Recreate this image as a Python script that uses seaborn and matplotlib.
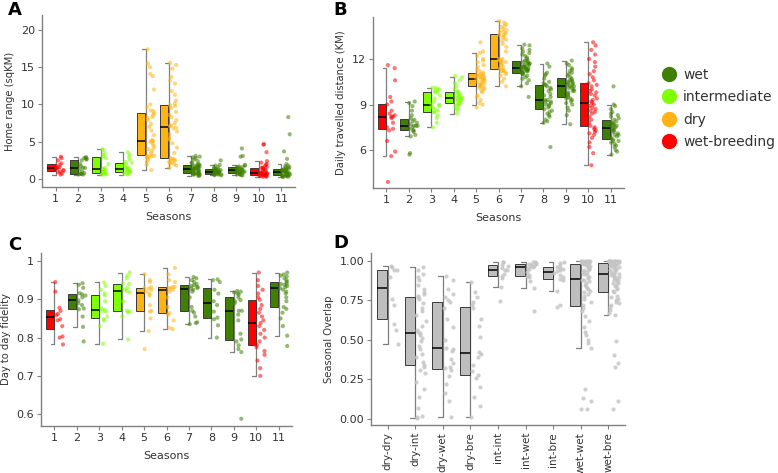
import numpy as np
import pandas as pd
import matplotlib
matplotlib.use("Agg")
import matplotlib.pyplot as plt
from matplotlib.lines import Line2D
from matplotlib.cbook import boxplot_stats
import seaborn as sns

# ---- data ----
seasons = list(range(1, 11 + 1))
season_type = ["wet-breeding", "wet", "intermediate", "intermediate", "dry", "dry",
               "wet", "wet", "wet", "wet-breeding", "wet"]
type_order = ["wet", "intermediate", "dry", "wet-breeding"]
type_colors = ["#3F8000", "#7FFF00", "#FFB414", "#FF0000"]

home_range = [
    [0.6, 0.7, 0.9, 1.0, 1.1, 1.2, 1.4, 1.5, 1.5, 1.6, 1.8, 1.9, 2.1, 2.5, 2.8, 3.0],
    [0.6, 0.6, 0.7, 0.7, 0.7, 0.8, 1.0, 1.3, 1.5, 1.5, 1.7, 2.0, 2.5, 2.6, 2.7, 2.8, 2.9, 2.9],
    [0.6, 0.6, 0.7, 0.8, 0.8, 0.9, 1.0, 1.2, 1.3, 1.3, 1.5, 2.0, 2.8, 3.0, 3.2, 3.5, 3.9, 4.0],
    [0.6, 0.7, 0.8, 0.9, 0.9, 0.9, 1.0, 1.1, 1.2, 1.3, 1.3, 1.4, 1.5, 1.6, 1.8, 2.0, 2.2, 2.3,
     2.6, 3.0, 3.3, 3.6],
    [1.2, 1.9, 2.3, 2.6, 2.8, 2.9, 3.0, 3.0, 3.1, 3.1, 3.2, 3.5, 3.8, 4.0, 4.2, 4.5, 4.8, 5.0,
     5.1, 5.1, 5.2, 5.9, 6.5, 7.0, 7.4, 7.9, 8.2, 8.3, 8.6, 8.8, 9.1, 9.2, 9.6, 10.0, 12.0,
     13.8, 14.1, 15.0, 15.5, 17.4],
    [1.5, 1.8, 2.0, 2.1, 2.2, 2.3, 2.4, 2.5, 2.6, 2.7, 2.8, 3.5, 4.2, 4.8, 5.3, 5.5, 6.0, 6.4,
     6.8, 6.9, 7.1, 7.2, 7.5, 7.9, 8.3, 8.6, 9.0, 9.5, 9.8, 9.9, 10.1, 10.5, 11.3, 11.8, 12.8,
     13.2, 13.7, 14.8, 15.3, 15.6],
    [0.4, 0.5, 0.5, 0.6, 0.6, 0.7, 0.7, 0.7, 0.8, 0.8, 0.8, 0.9, 1.0, 1.0, 1.1, 1.2, 1.2, 1.3,
     1.3, 1.3, 1.4, 1.4, 1.5, 1.5, 1.6, 1.6, 1.7, 1.7, 1.8, 1.9, 1.9, 2.0, 2.1, 2.2, 2.4, 2.6,
     2.8, 2.9, 3.0, 3.1],
    [0.5, 0.5, 0.6, 0.6, 0.6, 0.7, 0.7, 0.7, 0.8, 0.8, 0.9, 0.9, 0.9, 1.0, 1.0, 1.0, 1.0, 1.1,
     1.1, 1.2, 1.2, 1.3, 1.3, 1.3, 1.4, 1.5, 1.6, 1.8, 1.9, 2.5],
    [0.5, 0.5, 0.6, 0.6, 0.7, 0.7, 0.8, 0.8, 0.8, 0.9, 0.9, 1.0, 1.0, 1.1, 1.1, 1.2, 1.2, 1.3,
     1.3, 1.4, 1.4, 1.5, 1.6, 1.6, 1.7, 1.8, 1.9, 3.0, 3.1, 4.1],
    [0.3, 0.3, 0.4, 0.4, 0.4, 0.5, 0.5, 0.5, 0.5, 0.6, 0.6, 0.6, 0.7, 0.7, 0.7, 0.8, 0.8, 0.8,
     0.8, 0.9, 1.0, 1.1, 1.2, 1.3, 1.4, 1.5, 1.5, 1.6, 1.7, 1.9, 2.0, 2.2, 2.4, 3.6, 4.6, 4.7],
    [0.3, 0.3, 0.3, 0.4, 0.4, 0.4, 0.5, 0.5, 0.5, 0.5, 0.6, 0.6, 0.6, 0.7, 0.7, 0.8, 0.8, 0.8,
     0.9, 0.9, 0.9, 1.0, 1.0, 1.1, 1.1, 1.2, 1.2, 1.3, 1.3, 1.3, 1.4, 1.5, 1.6, 1.7, 1.8, 2.0,
     2.7, 3.7, 6.0, 8.3],
]

daily_distance = [
    [3.9, 5.6, 5.9, 6.6, 7.3, 7.4, 7.5, 7.8, 8.1, 8.2, 8.2, 8.3, 8.4, 8.6, 9.0, 9.2, 9.5, 10.6,
     11.4, 11.6],
    [5.7, 5.8, 6.9, 7.0, 7.2, 7.3, 7.3, 7.4, 7.5, 7.6, 7.6, 7.6, 7.7, 7.8, 7.9, 8.0, 8.1, 8.3,
     8.6, 8.9, 9.1, 9.2],
    [7.5, 7.8, 8.1, 8.3, 8.5, 8.5, 8.6, 8.7, 8.8, 8.9, 9.0, 9.0, 9.2, 9.4, 9.6, 9.8, 9.8, 9.9,
     10.0, 10.0, 10.1, 10.1],
    [8.4, 8.6, 8.7, 8.8, 8.9, 9.0, 9.0, 9.1, 9.1, 9.2, 9.2, 9.3, 9.3, 9.4, 9.4, 9.4, 9.5, 9.5,
     9.6, 9.6, 9.7, 9.8, 9.8, 9.9, 10.0, 10.2, 10.4, 10.6, 10.8, 10.9],
    [8.8, 9.0, 9.1, 9.3, 9.5, 9.6, 9.8, 9.9, 10.0, 10.1, 10.1, 10.2, 10.2, 10.3, 10.3, 10.4,
     10.4, 10.5, 10.5, 10.6, 10.6, 10.7, 10.7, 10.7, 10.8, 10.8, 10.8, 10.9, 10.9, 10.9, 11.0,
     11.0, 11.0, 11.1, 11.2, 11.3, 11.5, 11.6, 11.8, 11.9, 12.0, 12.2, 12.4, 12.5, 13.1],
    [10.2, 10.5, 10.7, 10.9, 11.0, 11.1, 11.2, 11.2, 11.3, 11.3, 11.4, 11.5, 11.6, 11.7, 11.8,
     11.8, 11.9, 11.9, 11.9, 12.0, 12.0, 12.5, 12.8, 13.0, 13.2, 13.3, 13.4, 13.5, 13.6, 13.6,
     13.7, 13.8, 13.8, 13.9, 14.0, 14.1, 14.2, 14.3, 14.4, 14.5],
    [9.5, 10.2, 10.4, 10.6, 10.7, 10.8, 10.9, 11.0, 11.0, 11.1, 11.1, 11.1, 11.2, 11.2, 11.2,
     11.3, 11.3, 11.3, 11.3, 11.4, 11.4, 11.4, 11.4, 11.5, 11.5, 11.5, 11.6, 11.6, 11.7, 11.7,
     11.7, 11.8, 11.8, 11.9, 11.9, 12.0, 12.1, 12.2, 12.3, 12.4, 12.5, 12.6, 12.7, 12.9, 12.95],
    [6.2, 7.8, 7.9, 8.0, 8.2, 8.3, 8.4, 8.5, 8.6, 8.7, 8.8, 8.9, 9.0, 9.0, 9.1, 9.2, 9.2, 9.3,
     9.3, 9.5, 9.6, 9.7, 9.9, 10.0, 10.1, 10.2, 10.3, 10.3, 10.4, 10.5, 10.7, 10.9, 11.0, 11.1,
     11.5, 11.7],
    [7.7, 8.3, 8.6, 8.8, 9.0, 9.1, 9.2, 9.3, 9.4, 9.4, 9.5, 9.6, 9.7, 9.8, 9.9, 9.9, 10.0, 10.1,
     10.1, 10.2, 10.2, 10.3, 10.3, 10.4, 10.4, 10.5, 10.5, 10.6, 10.6, 10.7, 10.8, 10.9, 11.0,
     11.1, 11.2, 11.3, 11.4, 11.6, 11.7, 11.9],
    [5.0, 5.8, 6.2, 6.5, 6.8, 7.0, 7.1, 7.2, 7.3, 7.4, 7.5, 7.6, 7.8, 8.0, 8.2, 8.4, 8.5, 8.6,
     8.7, 8.8, 8.9, 9.0, 9.1, 9.2, 9.3, 9.4, 9.6, 9.7, 9.8, 9.9, 10.0, 10.2, 10.3, 10.4, 10.6,
     10.8, 11.0, 11.2, 11.5, 11.8, 12.0, 12.3, 12.6, 12.9, 13.1],
    [5.7, 5.9, 6.0, 6.2, 6.3, 6.4, 6.5, 6.6, 6.6, 6.7, 6.8, 6.9, 7.0, 7.0, 7.1, 7.2, 7.3, 7.3,
     7.4, 7.5, 7.5, 7.6, 7.6, 7.7, 7.7, 7.8, 7.8, 7.9, 8.0, 8.1, 8.2, 8.3, 8.4, 8.5, 8.7, 8.9,
     9.0, 10.2],
]

fidelity = [
    [0.782, 0.800, 0.803, 0.830, 0.845, 0.848, 0.858, 0.862, 0.870, 0.878, 0.920, 0.945],
    [0.790, 0.828, 0.855, 0.874, 0.876, 0.885, 0.890, 0.897, 0.905, 0.910, 0.913, 0.916, 0.930,
     0.938, 0.942],
    [0.784, 0.830, 0.845, 0.848, 0.855, 0.868, 0.870, 0.873, 0.876, 0.895, 0.910, 0.915, 0.925,
     0.935, 0.944],
    [0.795, 0.855, 0.866, 0.868, 0.870, 0.895, 0.918, 0.922, 0.925, 0.930, 0.940, 0.941, 0.955,
     0.962, 0.970],
    [0.770, 0.817, 0.850, 0.868, 0.870, 0.885, 0.910, 0.915, 0.920, 0.925, 0.928, 0.930, 0.932,
     0.945, 0.950, 0.966],
    [0.822, 0.825, 0.845, 0.860, 0.864, 0.880, 0.905, 0.920, 0.925, 0.928, 0.930, 0.932, 0.932,
     0.945, 0.950, 0.965, 0.982],
    [0.835, 0.838, 0.840, 0.855, 0.865, 0.870, 0.880, 0.905, 0.920, 0.925, 0.928, 0.930, 0.932,
     0.935, 0.937, 0.940, 0.945, 0.950, 0.955, 0.958],
    [0.800, 0.832, 0.848, 0.852, 0.868, 0.885, 0.895, 0.915, 0.925, 0.945, 0.950, 0.952],
    [0.588, 0.762, 0.770, 0.780, 0.790, 0.795, 0.810, 0.845, 0.860, 0.870, 0.870, 0.890, 0.895,
     0.898, 0.905, 0.912, 0.915, 0.918, 0.920, 0.922],
    [0.700, 0.720, 0.740, 0.755, 0.765, 0.775, 0.781, 0.790, 0.800, 0.810, 0.820, 0.830, 0.838,
     0.845, 0.855, 0.865, 0.875, 0.885, 0.899, 0.905, 0.915, 0.925, 0.935, 0.950, 0.970],
    [0.778, 0.805, 0.830, 0.850, 0.865, 0.875, 0.880, 0.895, 0.905, 0.915, 0.920, 0.925, 0.929,
     0.932, 0.935, 0.938, 0.940, 0.942, 0.946, 0.950, 0.955, 0.960, 0.962, 0.965, 0.970],
]

overlap_pairs = ["dry-dry", "dry-int", "dry-wet", "dry-bre", "int-int", "int-wet",
                 "int-bre", "wet-wet", "wet-bre"]
overlap = [
    [0.473, 0.560, 0.600, 0.720, 0.760, 0.900, 0.940, 0.945, 0.960, 0.970],
    [0.006, 0.010, 0.015, 0.07, 0.14, 0.19, 0.23, 0.29, 0.31, 0.33, 0.34, 0.36, 0.39, 0.41,
     0.44, 0.46, 0.49, 0.51, 0.53, 0.54, 0.55, 0.56, 0.59, 0.62, 0.66, 0.68, 0.70, 0.73, 0.76,
     0.77, 0.78, 0.79, 0.80, 0.82, 0.85, 0.88, 0.90, 0.92, 0.94, 0.964],
    [0.013, 0.11, 0.16, 0.22, 0.27, 0.31, 0.32, 0.33, 0.35, 0.38, 0.43, 0.44, 0.45, 0.50, 0.58,
     0.63, 0.70, 0.74, 0.75, 0.77, 0.79, 0.82, 0.88, 0.905],
    [0.013, 0.08, 0.14, 0.20, 0.26, 0.28, 0.30, 0.34, 0.39, 0.41, 0.42, 0.52, 0.59, 0.63, 0.70,
     0.72, 0.74, 0.77, 0.80, 0.869],
    [0.745, 0.835, 0.890, 0.905, 0.920, 0.940, 0.945, 0.955, 0.970, 0.975, 0.990, 0.995],
    [0.680, 0.826, 0.870, 0.895, 0.905, 0.912, 0.930, 0.950, 0.958, 0.963, 0.965, 0.970, 0.975,
     0.978, 0.980, 0.985, 0.990, 0.995],
    [0.710, 0.720, 0.808, 0.880, 0.888, 0.895, 0.910, 0.925, 0.935, 0.945, 0.950, 0.958, 0.962,
     0.975, 0.985, 0.995],
    [0.06, 0.06, 0.11, 0.13, 0.19, 0.451, 0.48, 0.50, 0.53, 0.55, 0.58, 0.62, 0.65, 0.68, 0.70,
     0.72, 0.74, 0.76, 0.78, 0.79, 0.80, 0.81, 0.82, 0.83, 0.84, 0.85, 0.86, 0.87, 0.88, 0.88,
     0.89, 0.90, 0.91, 0.92, 0.93, 0.93, 0.94, 0.95, 0.95, 0.96, 0.96, 0.97, 0.97, 0.98, 0.98,
     0.985, 0.985, 0.99, 0.99, 0.99, 0.99, 0.995, 0.995, 0.995, 1.0, 1.0, 1.0, 1.0, 1.0, 1.0],
    [0.063, 0.11, 0.325, 0.35, 0.405, 0.49, 0.654, 0.67, 0.69, 0.71, 0.72, 0.73, 0.74, 0.75,
     0.76, 0.77, 0.78, 0.80, 0.81, 0.82, 0.83, 0.84, 0.85, 0.86, 0.86, 0.87, 0.88, 0.88, 0.89,
     0.89, 0.90, 0.90, 0.91, 0.91, 0.92, 0.92, 0.93, 0.93, 0.94, 0.94, 0.95, 0.95, 0.96, 0.96,
     0.97, 0.97, 0.97, 0.98, 0.98, 0.98, 0.985, 0.985, 0.99, 0.99, 0.99, 0.99, 0.99, 0.995,
     0.995, 0.995, 0.995, 1.0, 1.0, 1.0, 1.0, 1.0, 1.0, 1.0, 1.0, 1.0],
]

# ---- drawing ----
sns.set_style("ticks")
plt.rcParams["font.family"] = ["DejaVu Sans"]
np.random.seed(3)

TXT = "#333333"
SPINE = "#808080"
BOX_OFF = 0.2      # box sits left of the tick, points to the right
BOX_W = 0.36


def to_long(groups, positions, labels):
    rows = []
    for pos, lab, vals in zip(positions, labels, groups):
        for v in vals:
            rows.append((pos, lab, v))
    return pd.DataFrame(rows, columns=["pos", "cls", "value"])


def raincloud(ax, groups, positions, labels, palette, point_alpha=0.55):
    df = to_long(groups, positions, labels)
    df["box_x"] = df["pos"] - BOX_OFF
    df["pt_x"] = df["pos"] + BOX_OFF
    common = dict(native_scale=True, legend=False, ax=ax)
    if palette:
        common.update(hue="cls", hue_order=type_order,
                      palette=dict(zip(type_order, type_colors)))
        pt_kws = common
        box_kws = common
    else:
        pt_kws = {**common, "color": "#C4C4C4"}
        box_kws = {**common, "color": "#BEBEBE"}
    # jittered points to the right of each tick
    sns.stripplot(data=df, x="pt_x", y="value", jitter=0.19, size=3.0,
                  alpha=point_alpha, linewidth=0, **pt_kws)
    # whisker bracket on the right edge of each box
    for pos, vals in zip(positions, groups):
        st = boxplot_stats(np.asarray(vals))[0]
        ax.plot([pos, pos], [st["whislo"], st["whishi"]], color="#7F7F7F", lw=0.9,
                zorder=1.5)
        for w in (st["whislo"], st["whishi"]):
            ax.plot([pos - 0.17, pos], [w, w], color="#7F7F7F", lw=0.9, zorder=1.5)
    # boxes
    sns.boxplot(data=df, x="box_x", y="value", width=BOX_W, dodge=False, saturation=1,
                whis=1.5, showfliers=False, showcaps=False, linecolor="#3A3A3A",
                linewidth=0.7, whiskerprops={"visible": False},
                medianprops={"color": "black", "linewidth": 1.1}, **box_kws)


def style_axes(ax, xlim, ylim):
    ax.set_xlim(*xlim)
    ax.set_ylim(*ylim)
    sns.despine(ax=ax)
    for s in ("left", "bottom"):
        ax.spines[s].set_color(SPINE)
        ax.spines[s].set_linewidth(1.0)
    ax.tick_params(colors=SPINE, labelcolor=TXT, labelsize=8, length=3, width=0.8, pad=2)


fig = plt.figure(figsize=(7.78, 4.73), dpi=100)
W, H = 778, 473


def add_ax(l, t, r, b):
    return fig.add_axes([l / W, 1 - b / H, (r - l) / W, (b - t) / H])


axA = add_ax(42, 15, 295, 187)
axB = add_ax(373, 17, 624, 188)
axC = add_ax(41, 253, 292, 426)
axD = add_ax(371, 253, 625, 425)

for ax, data, ylabel, ylim, yticks in [
    (axA, home_range, "Home range (sqKM)", (-1.07, 22.0), [0, 5, 10, 15, 20]),
    (axB, daily_distance, "Daily travelled distance (KM)", (3.5, 14.77), [6, 9, 12]),
    (axC, fidelity, "Day to day fidelity", (0.569, 1.021), [0.6, 0.7, 0.8, 0.9, 1.0]),
]:
    raincloud(ax, data, seasons, season_type, palette=True)
    style_axes(ax, (0.4, 11.6), ylim)
    ax.set_xticks(seasons)
    ax.set_xticklabels([str(s) for s in seasons])
    ax.set_yticks(yticks)
    ax.set_xlabel("Seasons", fontsize=8, color=TXT, labelpad=6)
    ax.set_ylabel(ylabel, fontsize=7.2, color=TXT, labelpad=4)

axC.set_yticklabels(["0.6", "0.7", "0.8", "0.9", "1"])

pair_pos = list(range(1, len(overlap_pairs) + 1))
raincloud(axD, overlap, pair_pos, overlap_pairs, palette=False, point_alpha=0.8)
style_axes(axD, (0.4, 9.6), (-0.04, 1.05))
axD.set_xticks(pair_pos)
axD.set_xticklabels(overlap_pairs, rotation=90, fontsize=7.5)
axD.set_yticks([0, 0.25, 0.5, 0.75, 1.0])
axD.set_yticklabels(["0.00", "0.25", "0.50", "0.75", "1.00"])
axD.set_xlabel("")
axD.set_ylabel("Seasonal Overlap", fontsize=7.2, color=TXT, labelpad=4)

# panel letters
for lab, x, y in [("A", 8, 10), ("B", 333, 10), ("C", 8, 245), ("D", 333, 243)]:
    fig.text(x / W, 1 - y / H, lab, fontsize=13, fontweight="bold", va="center",
             ha="left", color="black")

# legend
handles = [Line2D([], [], marker="o", linestyle="", markersize=10, color=c)
           for c in type_colors]
fig.legend(handles, type_order, loc="upper left", bbox_to_anchor=(658 / W, 1 - 68 / H),
           frameon=False, fontsize=10, handletextpad=0.2, labelspacing=0.6,
           handlelength=1.6, borderaxespad=0, borderpad=0, labelcolor=TXT)

fig.savefig("out.png", dpi=100)
